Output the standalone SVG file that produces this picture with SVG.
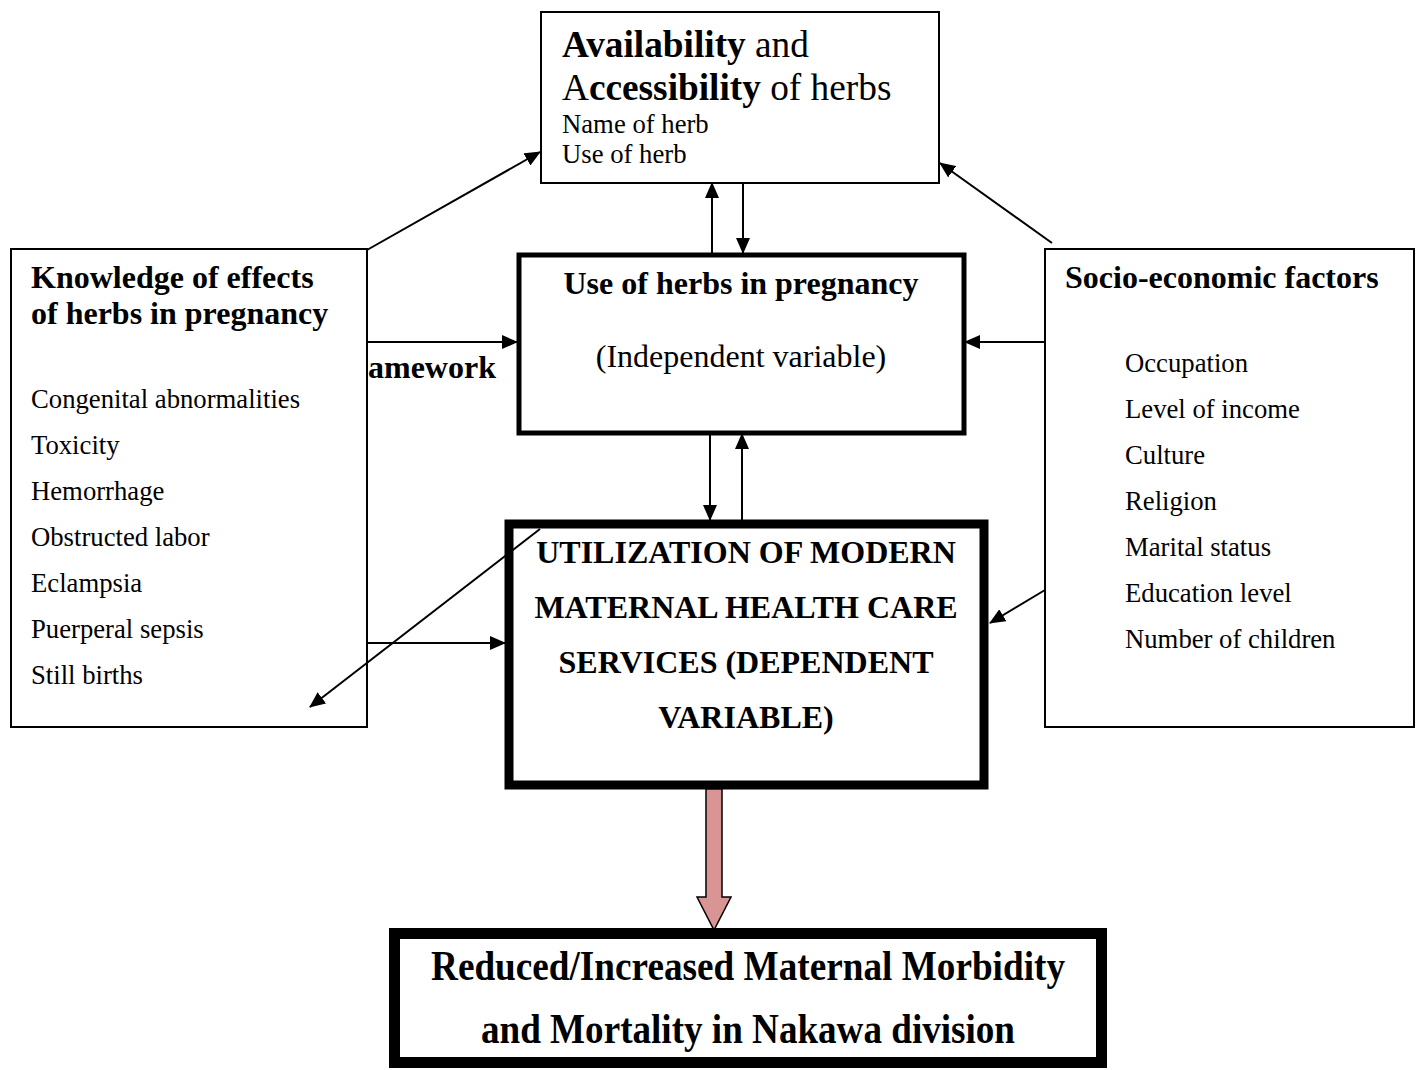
<svg xmlns="http://www.w3.org/2000/svg" width="1420" height="1070" viewBox="0 0 1420 1070">
<style>
text{font-family:"Liberation Serif","Times New Roman",serif;fill:#000}
.b{font-weight:bold}
.box{fill:#fff;stroke:#000;stroke-width:2}
.item{font-size:26.7px}
.hd{font-size:32px;font-weight:bold}
.ln{stroke:#000;stroke-width:2;fill:none;marker-end:url(#ah)}
</style>
<defs>
<marker id="ah" markerUnits="userSpaceOnUse" markerWidth="16" markerHeight="14" refX="15" refY="7" orient="auto">
<path d="M0,0 L16,7 L0,14 Z" fill="#000"/>
</marker>
</defs>
<rect width="1420" height="1070" fill="#fff"/>
<text x="368" y="378" class="hd">amework</text>
<g id="availability">
<rect class="box" x="541" y="12" width="398" height="171"/>
<text x="562" y="57" font-size="37.3"><tspan class="b">Availability</tspan> and</text>
<text x="562" y="100" font-size="37.3">A<tspan class="b">ccessibility</tspan> of herbs</text>
<text x="562" y="133" class="item">Name of herb</text>
<text x="562" y="163" class="item">Use of herb</text>
</g>
<g id="knowledge">
<rect class="box" x="11" y="249" width="356" height="478"/>
<text x="31" y="288" class="hd">Knowledge of effects</text>
<text x="31" y="324" class="hd">of herbs in pregnancy</text>
<text x="31" y="408" class="item">Congenital abnormalities</text>
<text x="31" y="454" class="item">Toxicity</text>
<text x="31" y="500" class="item">Hemorrhage</text>
<text x="31" y="546" class="item">Obstructed labor</text>
<text x="31" y="592" class="item">Eclampsia</text>
<text x="31" y="638" class="item">Puerperal sepsis</text>
<text x="31" y="684" class="item">Still births</text>
</g>
<g id="socio">
<rect class="box" x="1045" y="249" width="369" height="478"/>
<text x="1065" y="288" class="hd">Socio-economic factors</text>
<text x="1125" y="372" class="item">Occupation</text>
<text x="1125" y="418" class="item">Level of income</text>
<text x="1125" y="464" class="item">Culture</text>
<text x="1125" y="510" class="item">Religion</text>
<text x="1125" y="556" class="item">Marital status</text>
<text x="1125" y="602" class="item">Education level</text>
<text x="1125" y="648" class="item">Number of children</text>
</g>
<g id="use">
<rect x="519" y="255" width="445" height="178" fill="#fff" stroke="#000" stroke-width="5"/>
<text x="741" y="294" class="hd" text-anchor="middle">Use of herbs in pregnancy</text>
<text x="741" y="367" font-size="32" text-anchor="middle">(Independent variable)</text>
</g>
<g id="utilization">
<rect x="509" y="524" width="475" height="261" fill="#fff" stroke="#000" stroke-width="9"/>
<text x="746" y="563" class="hd" text-anchor="middle">UTILIZATION OF MODERN</text>
<text x="746" y="618" class="hd" text-anchor="middle">MATERNAL HEALTH CARE</text>
<text x="746" y="673" class="hd" text-anchor="middle">SERVICES (DEPENDENT</text>
<text x="746" y="728" class="hd" text-anchor="middle">VARIABLE)</text>
</g>
<g id="outcome">
<rect x="394.5" y="933.5" width="707" height="129" fill="#fff" stroke="#000" stroke-width="11"/>
<text x="748" y="980" font-size="43" class="b" text-anchor="middle" textLength="634" lengthAdjust="spacingAndGlyphs">Reduced/Increased Maternal Morbidity</text>
<text x="748" y="1043" font-size="43" class="b" text-anchor="middle" textLength="534" lengthAdjust="spacingAndGlyphs">and Mortality in Nakawa division</text>
</g>
<g id="connectors">
<line class="ln" x1="367" y1="250" x2="540" y2="152"/>
<line class="ln" x1="1052" y1="243" x2="940" y2="163"/>
<line class="ln" x1="712" y1="253" x2="712" y2="183"/>
<line class="ln" x1="743" y1="183" x2="743" y2="253"/>
<line class="ln" x1="367" y1="342" x2="517" y2="342"/>
<line class="ln" x1="1045" y1="342" x2="965" y2="342"/>
<line class="ln" x1="710" y1="434" x2="710" y2="520"/>
<line class="ln" x1="742" y1="520" x2="742" y2="434"/>
<line class="ln" x1="367" y1="643" x2="505" y2="643"/>
<line class="ln" x1="540" y1="529" x2="310" y2="707"/>
<line class="ln" x1="1045" y1="590" x2="990" y2="623"/>
<path d="M706,789 L722,789 L722,897 L731,897 L714,930 L697,897 L706,897 Z" fill="#d99594" stroke="#000" stroke-width="1.5"/>
</g>
</svg>
